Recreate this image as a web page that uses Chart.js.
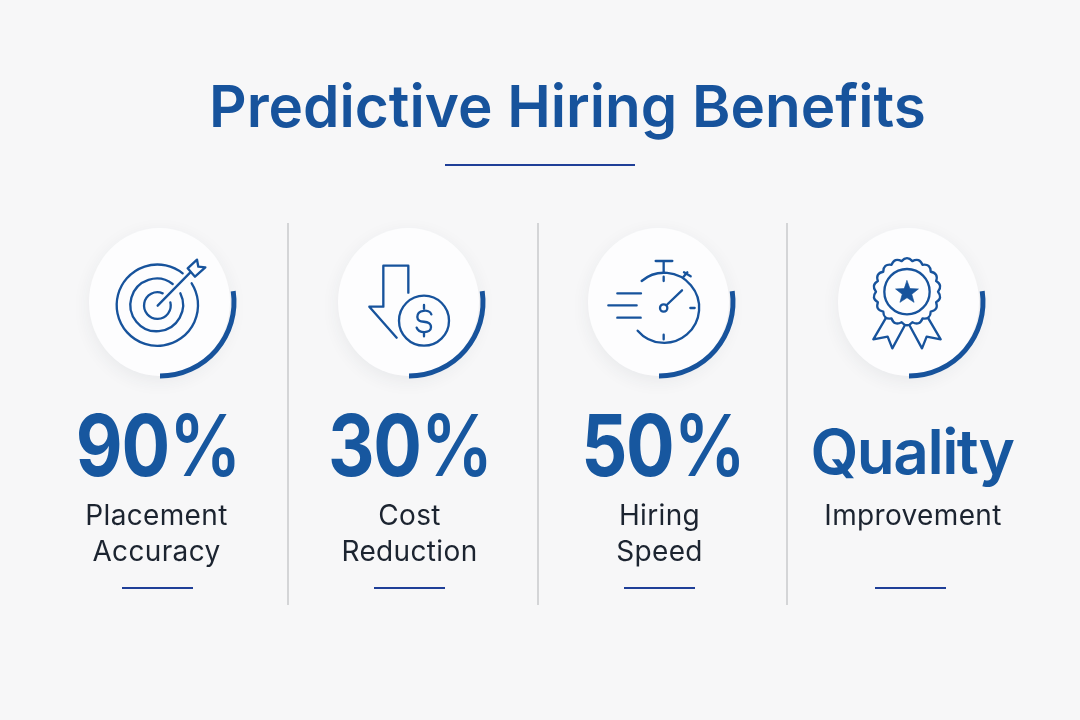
<!DOCTYPE html>
<html lang="en">
<head>
  <meta charset="UTF-8" />
  <title>Predictive Hiring Benefits</title>
  <style>
    html, body { margin: 0; padding: 0; }
    body {
      width: 1080px;
      height: 720px;
      background: #f7f7f8;
      font-family: Inter, 'Noto Sans', sans-serif;
      position: relative;
      overflow: hidden;
    }
    h1 {
      position: absolute;
      left: 209px;
      top: 71px;
      margin: 0;
      font-size: 58.4px;
      line-height: 70px;
      font-weight: 600;
      color: #17539c;
      white-space: nowrap;
    }
    .rule { position: absolute; height: 2px; background: #1f3f98; }
    .divider { position: absolute; top: 223px; width: 2px; height: 382px; background: #d4d5d7; }
    .disc {
      position: absolute;
      top: 228px;
      width: 141px;
      height: 148px;
      border-radius: 50%;
      background: #fdfdfe;
      box-shadow: 0 5px 18px rgba(40, 50, 70, 0.07);
    }
    .ring { position: absolute; top: 212px; width: 180px; height: 180px; }
    .icon { position: absolute; top: 215px; width: 220px; height: 175px; }
    .icon * { fill: none; stroke: #17539c; stroke-width: 7; stroke-linecap: round; stroke-linejoin: round; }
    .icon .solid { fill: #17539c; stroke-width: 2; }
    .stat, .label {
      position: absolute;
      transform: translateX(-50%);
      white-space: nowrap;
      line-height: 1;
    }
    /* the numerals in the picture are narrower than Inter's */
    .stat { color: #17579f; font-weight: 700; letter-spacing: -1.5px; transform: translateX(-50%) scaleX(0.85); }
    .stat span { font-weight: 600; }
    .stat.word { font-weight: 600; letter-spacing: -1.5px; transform: translateX(-50%); }
    .label { color: #1c2430; font-size: 28px; font-weight: 400; letter-spacing: 0.35px; }
  </style>
</head>
<body>
  <h1>Predictive Hiring Benefits</h1>
  <div class="rule" style="left:445px;top:164px;width:190px"></div>

  <script src="https://cdn.jsdelivr.net/npm/chart.js"></script>
  <script>
    // Card content
    const stats = ['90%', '30%', '50%', 'Quality'];
    const labels = [['Placement', 'Accuracy'], ['Cost', 'Reduction'], ['Hiring', 'Speed'], ['Improvement']];

    // Every gauge arc in the picture has the same sweep, whatever the stat says
    const arcSweep = [98.5, 98.5, 98.5, 98.5];
    const arcRest = [261.5, 261.5, 261.5, 261.5];

    // Layout
    const discCenter = [159.5, 408.5, 658.5, 908.5];
    const statCenter = [158, 410, 663, 912];
    const labelCenter = [156.5, 409.5, 659.5, 913];
    const ruleLeft = [122, 374, 624, 875];
    const dividerX = [287, 537, 786];

    // Scalloped seal and star for the award icon (3x icon units)
    function seal(cx, cy, n, rOut, rIn) {
      let d = '';
      for (let i = 0; i < n; i++) {
        const a0 = (i / n) * Math.PI * 2;
        const a1 = ((i + 0.5) / n) * Math.PI * 2;
        const a2 = ((i + 1) / n) * Math.PI * 2;
        if (i === 0) d += `M${cx + rIn * Math.cos(a0)} ${cy + rIn * Math.sin(a0)}`;
        d += `Q${cx + rOut * Math.cos(a1)} ${cy + rOut * Math.sin(a1)} ${cx + rIn * Math.cos(a2)} ${cy + rIn * Math.sin(a2)}`;
      }
      return d + 'Z';
    }
    function star(cx, cy, rOut, rIn) {
      const pts = [];
      for (let i = 0; i < 10; i++) {
        const r = i % 2 ? rIn : rOut;
        const a = -Math.PI / 2 + (i * Math.PI) / 5;
        pts.push(`${cx + r * Math.cos(a)},${cy + r * Math.sin(a)}`);
      }
      return pts.join(' ');
    }

    const icons = [
      // target
      `<path d="M335 175A122 122 0 1 0 362 205"/>
       <path d="M305 207A79 79 0 1 0 328 235"/>
       <path d="M275 235A40 40 0 1 0 298 262"/>
       <path d="M260 272L358 172"/>
       <path d="M350 160L378 134L382 155L403 157L372 185Z"/>`,
      // cost down
      `<path d="M265 233V152H190V275H148L230 368"/>
       <circle cx="312" cy="317" r="75"/>
       <path d="M334 298C328 282 292 283 292 306C292 330 333 310 333 337C333 356 296 356 290 338"/>
       <path d="M312 270V281M312 353V364"/>`,
      // stopwatch
      `<path d="M215 198A105 105 0 1 1 203 347"/>
       <path d="M281 170V138M257 138H307"/>
       <path d="M340 186L352 172M342 172L362 184"/>
       <path d="M281 185V198M281 359V373M361 279H374"/>
       <circle cx="281" cy="279" r="11"/>
       <path d="M290 270L336 226"/>
       <path d="M142 235H213M115 271H200M142 308H212"/>`,
      // award
      `<path d="${seal(261, 230, 18, 110, 93)}"/>
       <circle cx="261" cy="230" r="68"/>
       <polygon class="solid" points="${star(261, 233, 36, 15)}"/>
       <path d="M197 310L160 373L203 365L217 400L255 330"/>
       <path d="M325 310L362 373L320 365L306 400L268 330"/>`
    ];

    function add(tag, cls, style, text) {
      const el = document.createElement(tag);
      el.className = cls;
      el.style.cssText = style;
      if (text) el.textContent = text;
      document.body.appendChild(el);
      return el;
    }

    dividerX.forEach(x => add('div', 'divider', `left:${x}px`));

    stats.forEach((stat, i) => {
      const c = discCenter[i];
      add('div', 'disc', `left:${c - 70.5}px`);

      const canvas = add('canvas', 'ring', `left:${c - 90}px`);
      canvas.width = 180;
      canvas.height = 180;
      new Chart(canvas, {
        type: 'doughnut',
        data: {
          labels: ['arc', 'rest'],
          datasets: [{
            data: [arcSweep[i], arcRest[i]],
            backgroundColor: ['#17539c', 'rgba(0,0,0,0)'],
            borderWidth: 0
          }]
        },
        options: {
          responsive: false,
          animation: false,
          rotation: 81.5,
          radius: 76.5,
          cutout: '93.5%',
          plugins: { legend: { display: false }, tooltip: { enabled: false } }
        }
      });

      const svg = document.createElementNS('http://www.w3.org/2000/svg', 'svg');
      svg.setAttribute('class', 'icon');
      svg.setAttribute('viewBox', '0 0 660 525');
      svg.style.left = (c - 89) + 'px';
      svg.innerHTML = icons[i];
      document.body.appendChild(svg);

      const isWord = stat === 'Quality';
      const el = add('div', isWord ? 'stat word' : 'stat',
        `left:${statCenter[i]}px;top:${isWord ? 421 : 403}px;font-size:${isWord ? 62 : 85}px`);
      if (isWord) {
        el.textContent = stat;
      } else {
        // the percent sign is lighter than the digits
        el.append(stat.slice(0, -1));
        const pct = document.createElement('span');
        pct.textContent = '%';
        el.append(pct);
      }
      labels[i].forEach((line, j) => {
        add('div', 'label', `left:${labelCenter[i]}px;top:${501 + j * 36}px`, line);
      });
      add('div', 'rule', `left:${ruleLeft[i]}px;top:587px;width:71px`);
    });
  </script>
</body>
</html>
